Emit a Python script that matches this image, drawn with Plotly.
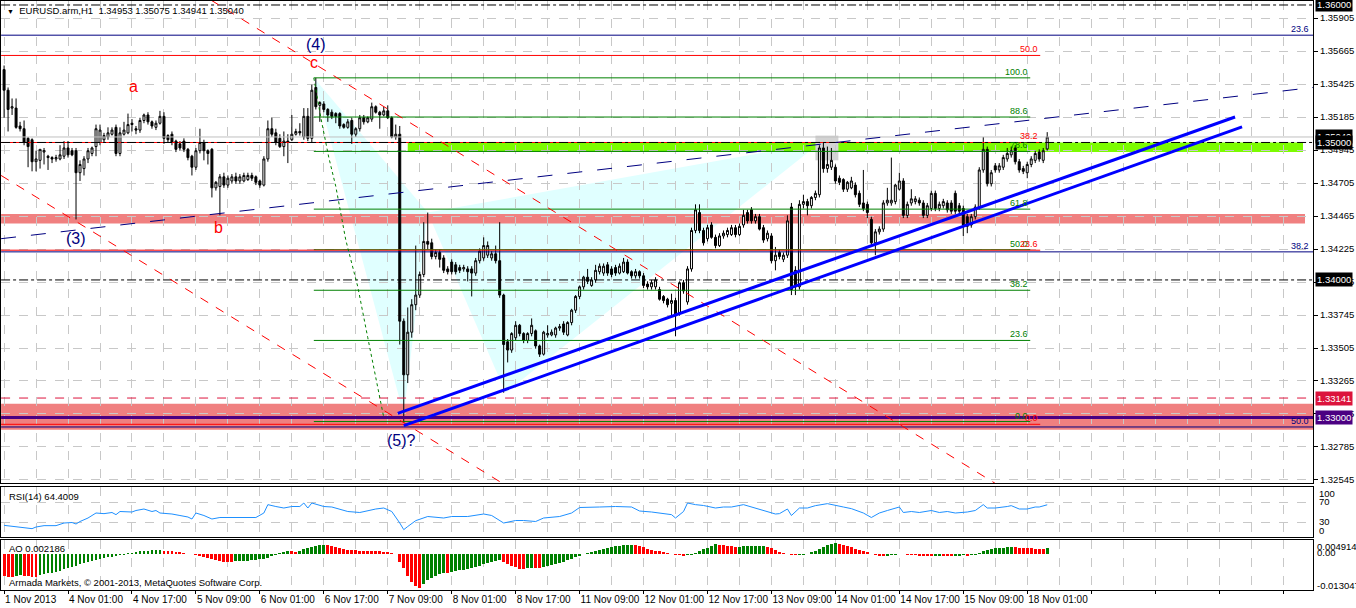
import plotly.graph_objects as go

W, H = 1356, 608

# ---------------- candle data (H1 bars, index 0 = 1 Nov 2013 09:00) ----------------
open_ = [
 1.3553,1.3538,1.3525,1.3525,1.3512,1.3510,1.3503,1.3502,1.3486,1.3487,
 1.3493,1.3490,1.3489,1.3488,1.3488,1.3490,1.3496,1.3494,1.3494,1.3478,
 1.3481,1.3488,1.3492,1.3497,1.3500,1.3502,1.3504,1.3506,1.3511,1.3492,
 1.3506,1.3507,1.3514,1.3510,1.3509,1.3516,1.3520,1.3515,1.3511,1.3514,
 1.3519,1.3505,1.3506,1.3501,1.3499,1.3501,1.3495,1.3490,1.3482,1.3494,
 1.3500,1.3494,1.3495,1.3467,1.3468,1.3475,1.3469,1.3472,1.3475,1.3472,
 1.3472,1.3473,1.3476,1.3475,1.3472,1.3469,1.3488,1.3510,1.3507,1.3503,
 1.3497,1.3501,1.3502,1.3506,1.3508,1.3504,1.3519,1.3503,1.3540,1.3527,
 1.3528,1.3524,1.3522,1.3521,1.3521,1.3513,1.3511,1.3516,1.3506,1.3510,
 1.3518,1.3515,1.3517,1.3526,1.3522,1.3520,1.3523,1.3518,1.3504,1.3506,
 1.3370,1.3331,1.3362,1.3382,1.3389,1.3404,1.3428,1.3427,1.3417,1.3420,
 1.3416,1.3408,1.3413,1.3411,1.3409,1.3408,1.3408,1.3408,1.3405,1.3414,
 1.3416,1.3418,1.3416,1.3419,1.3414,1.3389,1.3355,1.3349,1.3358,1.3367,
 1.3361,1.3356,1.3361,1.3363,1.3352,1.3346,1.3360,1.3360,1.3360,1.3365,
 1.3368,1.3360,1.3369,1.3378,1.3388,1.3395,1.3402,1.3396,1.3400,1.3406,
 1.3405,1.3411,1.3408,1.3409,1.3405,1.3406,1.3413,1.3406,1.3403,1.3406,
 1.3403,1.3397,1.3395,1.3395,1.3393,1.3388,1.3386,1.3383,1.3385,1.3376,
 1.3398,1.3384,1.3408,1.3436,1.3449,1.3436,1.3430,1.3440,1.3431,1.3425,
 1.3432,1.3433,1.3433,1.3438,1.3433,1.3440,1.3449,1.3451,1.3443,1.3446,
 1.3438,1.3430,1.3432,1.3414,1.3420,1.3415,1.3418,1.3453,1.3407,1.3395,
 1.3455,1.3457,1.3454,1.3460,1.3462,1.3496,1.3481,1.3482,1.3482,1.3474,
 1.3473,1.3466,1.3467,1.3469,1.3463,1.3456,1.3455,1.3444,1.3427,1.3435,
 1.3437,1.3456,1.3456,1.3457,1.3466,1.3472,1.3447,1.3456,1.3457,1.3458,
 1.3456,1.3447,1.3452,1.3463,1.3452,1.3454,1.3456,1.3456,1.3463,1.3454,
 1.3452,1.3446,1.3440,1.3446,1.3453,1.3480,1.3495,1.3470,1.3483,1.3480,
 1.3482,1.3488,1.3491,1.3496,1.3486,1.3481,1.3478,1.3484,1.3487,1.3493,
 1.3487,1.34953]
high = [
 1.3556,1.3540,1.3532,1.3532,1.3515,1.3516,1.3504,1.3503,1.3494,1.3495,
 1.3496,1.3491,1.3490,1.3491,1.3498,1.3501,1.3501,1.3496,1.3496,1.3487,
 1.3490,1.3496,1.3497,1.3513,1.3513,1.3507,1.3511,1.3511,1.3513,1.3511,
 1.3515,1.3521,1.3517,1.3512,1.3518,1.3521,1.3522,1.3516,1.3516,1.3523,
 1.3522,1.3506,1.3508,1.3502,1.3501,1.3503,1.3496,1.3491,1.3496,1.3510,
 1.3502,1.3495,1.3496,1.3472,1.3477,1.3478,1.3476,1.3477,1.3478,1.3477,
 1.3478,1.3478,1.3478,1.3476,1.3473,1.3490,1.3516,1.3518,1.3510,1.3506,
 1.3508,1.3506,1.3520,1.3510,1.3514,1.3525,1.3525,1.3542,1.3547,1.3530,
 1.3530,1.3525,1.3524,1.3522,1.3522,1.3514,1.3517,1.3518,1.3511,1.3520,
 1.3520,1.3519,1.3529,1.3527,1.3523,1.3526,1.3527,1.3519,1.3513,1.3512,
 1.3372,1.3380,1.3386,1.3425,1.3406,1.3442,1.3449,1.3430,1.3422,1.3422,
 1.3418,1.3410,1.3415,1.3413,1.3411,1.3411,1.3410,1.3410,1.3416,1.3423,
 1.3431,1.3428,1.3421,1.3425,1.3442,1.3390,1.3357,1.3362,1.3370,1.3368,
 1.3362,1.3362,1.3372,1.3364,1.3353,1.3363,1.3367,1.3364,1.3366,1.3368,
 1.3370,1.3370,1.3379,1.3389,1.3396,1.3403,1.3408,1.3402,1.3411,1.3412,
 1.3412,1.3413,1.3410,1.3411,1.3412,1.3416,1.3415,1.3407,1.3408,1.3407,
 1.3405,1.3399,1.3400,1.3402,1.3395,1.3389,1.3387,1.3390,1.3387,1.3399,
 1.3400,1.3410,1.3438,1.3455,1.3455,1.3438,1.3440,1.3442,1.3433,1.3434,
 1.3436,1.3438,1.3440,1.3440,1.3441,1.3451,1.3451,1.3453,1.3448,1.3448,
 1.3440,1.3436,1.3434,1.3424,1.3422,1.3420,1.3447,1.3456,1.3410,1.3458,
 1.3462,1.3459,1.3461,1.3465,1.3498,1.3500,1.3497,1.3496,1.3484,1.3476,
 1.3474,1.3472,1.3475,1.3471,1.3465,1.3480,1.3457,1.3446,1.3437,1.3439,
 1.3458,1.3467,1.3489,1.3470,1.3478,1.3474,1.3457,1.3466,1.3461,1.3460,
 1.3458,1.3456,1.3465,1.3465,1.3457,1.3459,1.3458,1.3458,1.3465,1.3456,
 1.3454,1.3448,1.3448,1.3455,1.3482,1.3504,1.3497,1.3480,1.3485,1.3485,
 1.3491,1.3496,1.3497,1.3498,1.3488,1.3483,1.3486,1.3490,1.3494,1.3495,
 1.3496,1.35075]
low = [
 1.3518,1.3508,1.3520,1.3510,1.3508,1.3498,1.3482,1.3479,1.3479,1.3481,
 1.3484,1.3480,1.3485,1.3486,1.3487,1.3488,1.3489,1.3490,1.3444,1.3472,
 1.3476,1.3485,1.3490,1.3490,1.3498,1.3500,1.3502,1.3505,1.3490,1.3490,
 1.3505,1.3506,1.3508,1.3506,1.3507,1.3514,1.3513,1.3510,1.3509,1.3513,
 1.3499,1.3500,1.3498,1.3493,1.3494,1.3493,1.3487,1.3476,1.3480,1.3492,
 1.3487,1.3484,1.3460,1.3465,1.3447,1.3467,1.3467,1.3470,1.3470,1.3470,
 1.3471,1.3472,1.3472,1.3469,1.3467,1.3468,1.3486,1.3504,1.3498,1.3496,
 1.3490,1.3485,1.3501,1.3505,1.3505,1.3502,1.3501,1.3500,1.3524,1.3515,
 1.3522,1.3515,1.3517,1.3514,1.3510,1.3510,1.3510,1.3499,1.3504,1.3508,
 1.3513,1.3514,1.3515,1.3521,1.3510,1.3519,1.3517,1.3503,1.3502,1.3353,
 1.3296,1.3325,1.3358,1.3378,1.3387,1.3402,1.3422,1.3415,1.3415,1.3409,
 1.3405,1.3404,1.3404,1.3404,1.3405,1.3406,1.3399,1.3388,1.3403,1.3412,
 1.3414,1.3416,1.3414,1.3412,1.3387,1.3318,1.3340,1.3347,1.3356,1.3359,
 1.3354,1.3354,1.3359,1.3350,1.3344,1.3345,1.3358,1.3359,1.3358,1.3363,
 1.3360,1.3359,1.3367,1.3376,1.3386,1.3393,1.3397,1.3395,1.3398,1.3404,
 1.3403,1.3403,1.3402,1.3403,1.3404,1.3405,1.3404,1.3401,1.3401,1.3401,
 1.3394,1.3393,1.3393,1.3393,1.3385,1.3383,1.3380,1.3373,1.3359,1.3374,
 1.3390,1.3382,1.3406,1.3434,1.3434,1.3425,1.3428,1.3430,1.3423,1.3424,
 1.3430,1.3431,1.3432,1.3431,1.3432,1.3438,1.3441,1.3441,1.3441,1.3436,
 1.3427,1.3428,1.3412,1.3407,1.3415,1.3413,1.3416,1.3389,1.3389,1.3393,
 1.3452,1.3447,1.3452,1.3458,1.3460,1.3478,1.3478,1.3480,1.3470,1.3469,
 1.3464,1.3464,1.3466,1.3460,1.3453,1.3450,1.3445,1.3425,1.3418,1.3433,
 1.3435,1.3454,1.3454,1.3455,1.3465,1.3445,1.3445,1.3454,1.3455,1.3454,
 1.3445,1.3445,1.3450,1.3450,1.3450,1.3452,1.3449,1.3448,1.3448,1.3448,
 1.3432,1.3434,1.3438,1.3444,1.3451,1.3478,1.3468,1.3468,1.3478,1.3478,
 1.3480,1.3486,1.3489,1.3484,1.3478,1.3477,1.3474,1.3482,1.3485,1.3486,
 1.3485,1.34941]
close = [
 1.3538,1.3524,1.3526,1.3511,1.3510,1.3500,1.3497,1.3486,1.3488,1.3495,
 1.3494,1.3489,1.3488,1.3489,1.3491,1.3496,1.3491,1.3491,1.3478,1.3484,
 1.3488,1.3494,1.3496,1.3510,1.3509,1.3505,1.3507,1.3509,1.3492,1.3507,
 1.3509,1.3513,1.3513,1.3509,1.3516,1.3520,1.3515,1.3512,1.3514,1.3519,
 1.3503,1.3502,1.3500,1.3495,1.3496,1.3495,1.3489,1.3482,1.3494,1.3500,
 1.3494,1.3492,1.3467,1.3471,1.3475,1.3469,1.3474,1.3475,1.3472,1.3475,
 1.3476,1.3476,1.3474,1.3471,1.3469,1.3488,1.3510,1.3506,1.3500,1.3497,
 1.3501,1.3500,1.3506,1.3508,1.3507,1.3519,1.3503,1.3538,1.3526,1.3529,
 1.3524,1.3520,1.3519,1.3519,1.3512,1.3511,1.3515,1.3506,1.3510,1.3518,
 1.3515,1.3518,1.3526,1.3522,1.3520,1.3523,1.3518,1.3504,1.3506,1.3370,
 1.3331,1.3362,1.3382,1.3389,1.3404,1.3428,1.3426,1.3417,1.3420,1.3415,
 1.3407,1.3406,1.3406,1.3406,1.3407,1.3409,1.3406,1.3405,1.3414,1.3421,
 1.3425,1.3425,1.3419,1.3414,1.3389,1.3353,1.3349,1.3361,1.3367,1.3361,
 1.3356,1.3361,1.3367,1.3352,1.3346,1.3362,1.3361,1.3362,1.3365,1.3366,
 1.3362,1.3369,1.3378,1.3388,1.3395,1.3402,1.3399,1.3400,1.3407,1.3410,
 1.3410,1.3405,1.3404,1.3405,1.3410,1.3413,1.3405,1.3403,1.3406,1.3403,
 1.3396,1.3395,1.3398,1.3400,1.3386,1.3385,1.3382,1.3385,1.3374,1.3398,
 1.3392,1.3408,1.3436,1.3451,1.3436,1.3427,1.3438,1.3431,1.3425,1.3432,
 1.3434,1.3436,1.3438,1.3433,1.3439,1.3447,1.3443,1.3443,1.3446,1.3437,
 1.3429,1.3434,1.3414,1.3418,1.3417,1.3418,1.3443,1.3393,1.3395,1.3455,
 1.3457,1.3454,1.3460,1.3463,1.3496,1.3481,1.3484,1.3487,1.3472,1.3471,
 1.3466,1.3471,1.3472,1.3462,1.3455,1.3452,1.3449,1.3427,1.3435,1.3437,
 1.3456,1.3458,1.3458,1.3469,1.3472,1.3447,1.3455,1.3459,1.3459,1.3456,
 1.3447,1.3454,1.3463,1.3452,1.3455,1.3457,1.3451,1.3450,1.3450,1.3450,
 1.3440,1.3439,1.3446,1.3453,1.3480,1.3495,1.3470,1.3478,1.3480,1.3483,
 1.3489,1.3492,1.3494,1.3486,1.3480,1.3479,1.3484,1.3488,1.3492,1.3488,
 1.3494,1.35040]
bar_x = list(range(len(close)))

# ---------------- axis labels ----------------
x_label_bars = [0, 16, 32, 48, 64, 80, 96, 112, 128, 144, 160, 176, 192, 208, 224, 240, 256]
x_label_text = ["1 Nov 2013", "4 Nov 01:00", "4 Nov 17:00", "5 Nov 09:00", "6 Nov 01:00",
                "6 Nov 17:00", "7 Nov 09:00", "8 Nov 01:00", "8 Nov 17:00", "11 Nov 09:00",
                "12 Nov 01:00", "12 Nov 17:00", "13 Nov 09:00", "14 Nov 01:00", "14 Nov 17:00",
                "15 Nov 09:00", "18 Nov 01:00"]
price_ticks = [1.32545, 1.32785, 1.33025, 1.33265, 1.33505, 1.33745, 1.33985, 1.34225,
               1.34465, 1.34705, 1.34945, 1.35185, 1.35425, 1.35665, 1.35905]

# ---------------- RSI(14) read at sample bars ----------------
rsi_bars = [0,4,7,8,10,13,15,17,18,19,21,23,25,27,28,29,32,33,35,37,38,39,42,44,46,47,48,50,52,54,
            57,60,63,65,66,68,70,72,74,75,76,77,80,82,84,86,89,91,93,95,97,99,100,101,103,106,110,
            112,116,120,122,125,128,130,133,135,139,142,144,149,153,157,159,162,164,167,168,170,
            171,173,175,176,178,180,182,185,187,189,191,193,194,196,197,199,201,203,206,208,210,
            212,215,217,219,221,224,225,227,229,232,234,236,238,241,243,245,246,248,251,252,254,
            256,258,259,261]
rsi_vals = [23.3,19,16.7,20,22.7,22.7,28,29,26,31,38,48,46.7,49,44.7,51,50,53,56,51,53,48,46,43,40,
            36,48,43,36,39,39,40,39,48,64.7,61,58,61,61,68,58,68,61,60,56,51,49,53,56,58,51,28,14.7,
            21,32.7,41,38,41,41,46,43,28,33,33,31,38,41,48,59,60,61,60,52,50,48,44.7,38,51,68,64.7,
            63,61,58,60,60,64.7,60,55,51,46,46.7,56,43,58,58,62.7,66.7,62.7,60,56.7,48,39,48,53,60,
            49,51,49,53,49,51,48,50,53,64.7,58,58,61,62.7,56,56,60,60,64.4]

# ---------------- Awesome Oscillator per bar ----------------
ao_vals = [
 -0.0085,-0.0087,-0.0087,-0.0085,-0.0083,-0.0085,-0.0086,-0.0088,-0.0088,-0.0083,
 -0.0077,-0.0074,-0.0072,-0.0068,-0.0064,-0.0059,-0.0054,-0.0050,-0.0046,-0.0040,
 -0.0033,-0.0029,-0.0026,-0.0023,-0.0020,-0.0016,-0.0013,-0.0010,-0.0008,-0.0005,
 -0.0002,0.0002,0.0005,0.0008,0.0010,0.0012,0.0013,0.0015,0.0016,0.0017,
 0.0012,0.0011,0.0010,0.0008,0.0006,0.0003,0.0001,-0.0001,-0.0003,-0.0006,
 -0.0010,-0.0014,-0.0018,-0.0022,-0.0027,-0.0029,-0.0031,-0.0032,-0.0028,-0.0027,
 -0.0026,-0.00255,-0.0024,-0.0023,-0.0021,-0.0018,-0.0014,-0.0009,-0.0004,0.0002,
 0.0009,0.0011,0.0010,0.0009,0.0013,0.0019,0.0024,0.0028,0.0031,0.0033,
 0.0035,0.0034,0.0031,0.0027,0.0023,0.0020,0.0017,0.0015,0.0014,0.0013,
 0.0012,0.00115,0.0011,0.00105,0.0010,0.0009,0.0008,0.0005,0.0001,-0.0030,
 -0.0055,-0.0085,-0.0110,-0.0125,-0.0130,-0.0116,-0.0100,-0.0091,-0.0084,-0.0078,
 -0.0072,-0.0073,-0.0070,-0.0066,-0.0063,-0.0060,-0.0057,-0.0054,-0.0050,-0.0046,
 -0.0040,-0.0034,-0.0029,-0.0026,-0.0025,-0.0030,-0.0038,-0.0045,-0.0052,-0.0056,
 -0.0058,-0.0055,-0.0053,-0.0054,-0.0055,-0.0052,-0.0047,-0.0043,-0.0039,-0.0034,
 -0.0029,-0.0024,-0.0018,-0.0012,-0.0006,-0.0001,0.0004,0.0009,0.0013,0.0017,
 0.0021,0.0024,0.0027,0.0029,0.0031,0.0033,0.0034,0.0035,0.0033,0.0030,
 0.0026,0.0020,0.0014,0.0012,0.0010,0.0007,0.0003,0.0000,-0.0003,-0.0005,
 -0.0006,-0.0005,-0.0003,0.0003,0.0010,0.0018,0.0025,0.0031,0.0037,0.0035,
 0.0033,0.0031,0.0029,0.0027,0.0028,0.0029,0.00295,0.0030,0.00305,0.0031,
 0.00315,0.0028,0.0022,0.0015,0.0008,0.0003,-0.0001,-0.0004,-0.0005,-0.0004,
 -0.0002,0.0001,0.0006,0.0012,0.0020,0.0027,0.0033,0.0038,0.0042,0.0040,
 0.0036,0.0031,0.0026,0.0021,0.0016,0.0011,0.0006,0.0001,-0.0004,-0.0007,
 -0.0009,-0.0007,-0.0004,-0.0002,0.0001,0.0000,-0.0002,-0.0004,-0.0005,-0.0006,
 -0.0007,-0.0008,-0.0009,-0.0008,-0.0006,-0.0007,-0.0008,-0.0009,-0.0008,-0.0006,
 -0.0005,-0.0006,-0.0005,-0.0002,0.0004,0.0011,0.0016,0.0020,0.0023,0.0024,
 0.0025,0.0026,0.0027,0.0026,0.0025,0.0024,0.0023,0.0022,0.0021,0.0020,
 0.0019,0.002186]

# ---------------- chart objects (bar index, price) ----------------
green_fib_levels = [0.0, 23.6, 38.2, 50.0, 61.8, 78.6, 88.6, 100.0]
green_fib_p0, green_fib_p100 = 1.3297, 1.3547
green_fib_x = [77.5, 256.75]
red_fib_levels = [0.0, 23.6, 38.2, 50.0]
red_fib_p0, red_fib_p100 = 1.3295, 1.38316
red_fib_x = [-0.75, 259.25]
navy_fib_levels = [23.6, 38.2, 50.0]
navy_fib_p0, navy_fib_p100 = 1.38328, 1.27533
navy_fib_x = [-0.75, 327.5]

hline_prices = [1.36000, 1.35000, 1.34000]
bid_price = 1.35040
alert_price = 1.33141
support_price = 1.33000

lime_zone = ([101, 325], [1.3493, 1.3500])
pink_zone_hi = ([-0.75, 325.5], [1.3441, 1.3448])
pink_zone_lo = ([-0.75, 327.5], [1.3291, 1.3310])
gray_box = ([203, 208.75], [1.3487, 1.3505])

pattern_x = [77.5, 100, 106, 125.5, 204.25]
pattern_p = [1.3547, 1.3302, 1.3449, 1.3318, 1.3500]

chan1_x, chan1_p = [98.5, 308], [1.3303, 1.35185]
chan2_x, chan2_p = [100, 309.75], [1.3294, 1.35113]
trend_x, trend_p = [-0.75, 327.5], [1.3430, 1.3540]
red_diag1_x, red_diag1_p = [51.75, 248], [1.36036, 1.3252]
red_diag2_x, red_diag2_p = [-0.75, 124.75], [1.3476, 1.3252]
dotted_x = [77.5, 79.25, 81.25, 83, 85.5, 88.5, 91, 93.5, 95]
dotted_p = [1.3547, 1.3518, 1.3489, 1.3468, 1.3429, 1.3395, 1.3358, 1.3322, 1.3300]

wave_text = ["(4)", "c", "a", "b", "(3)", "(5)?"]
wave_x = [78, 77.5, 32.5, 53.75, 18, 99.5]
wave_p = [1.35716, 1.3558, 1.35404, 1.34378, 1.3430, 1.32829]
wave_color = ["#000080", "#FF0000", "#FF0000", "#FF0000", "#000080", "#000080"]

# ---------------- layout geometry ----------------
XR = [-0.75, 327.5]
PLOT_R = 1313 / W
def py(p):
    return 1 - p / H

FONT = "Liberation Sans, Arial, sans-serif"
FS = 9
FSA = 9.5
GRID = "#C8C8C8"

fig = go.Figure()

# candles
fig.add_trace(go.Candlestick(
    x=bar_x, open=open_, high=high, low=low, close=close,
    increasing=dict(line=dict(color="black", width=1), fillcolor="white"),
    decreasing=dict(line=dict(color="black", width=1), fillcolor="black"),
    whiskerwidth=0, xaxis="x", yaxis="y", showlegend=False, hoverinfo="skip"))

def line(xs, ys, color, width=1, dash="solid"):
    fig.add_trace(go.Scatter(x=xs, y=ys, mode="lines", line=dict(color=color, width=width, dash=dash),
                             xaxis="x", yaxis="y", showlegend=False, hoverinfo="skip"))

# horizontal price lines
line(XR, [bid_price] * 2, "#C0C0C0", 1)
line(XR, [alert_price] * 2, "#DC143C", 1, "dash")
line(XR, [support_price] * 2, "#4B0082", 3)

# fibonacci sets
annots = []
for lv in green_fib_levels:
    p = green_fib_p0 + (green_fib_p100 - green_fib_p0) * lv / 100
    line(green_fib_x, [p, p], "#008000", 1)
    annots.append(dict(x=green_fib_x[1], y=p, xref="x", yref="y", text=f"{lv:.1f}",
                       font=dict(color="#008000", size=FS), xanchor="right", yanchor="bottom",
                       showarrow=False, yshift=-1))
for lv in red_fib_levels:
    p = red_fib_p0 + (red_fib_p100 - red_fib_p0) * lv / 100
    line(red_fib_x, [p, p], "#FF0000", 1)
    annots.append(dict(x=red_fib_x[1], y=p, xref="x", yref="y", text=f"{lv:.1f}",
                       font=dict(color="#FF0000", size=FS), xanchor="right", yanchor="bottom",
                       showarrow=False, yshift=-1))
for lv in navy_fib_levels:
    p = navy_fib_p0 + (navy_fib_p100 - navy_fib_p0) * lv / 100
    line(navy_fib_x, [p, p], "#000080", 1)
    annots.append(dict(x=navy_fib_x[1] - 0.5, y=p, xref="x", yref="y", text=f"{lv:.1f}",
                       font=dict(color="#000080", size=FS), xanchor="right", yanchor="bottom",
                       showarrow=False, yshift=-1))
for p in hline_prices:
    line(XR, [p, p], "black", 1, "dashdot")

# trend lines
line(trend_x, trend_p, "#000080", 1, "longdash")
line(red_diag1_x, red_diag1_p, "#FF0000", 1, "dash")
line(red_diag2_x, red_diag2_p, "#FF0000", 1, "dash")
line(dotted_x, dotted_p, "#008000", 1, "dot")
line(chan1_x, chan1_p, "#0000FF", 3)
line(chan2_x, chan2_p, "#0000FF", 3)

# RSI
fig.add_trace(go.Scatter(x=rsi_bars, y=rsi_vals, mode="lines", line=dict(color="#1E90FF", width=1),
                         xaxis="x2", yaxis="y2", showlegend=False, hoverinfo="skip"))

# AO histogram
ao_colors = ["#FF0000"] + ["#008000" if ao_vals[i] > ao_vals[i - 1] else "#FF0000"
                           for i in range(1, len(ao_vals))]
fig.add_trace(go.Bar(x=bar_x, y=ao_vals, marker=dict(color=ao_colors, line=dict(width=0)),
                     width=0.72, xaxis="x3", yaxis="y3", showlegend=False, hoverinfo="skip"))

# shapes (below grid)
shapes = []
for a, b, c in [(0, 1, 2), (2, 3, 4)]:
    path = (f"M {pattern_x[a]},{pattern_p[a]} L {pattern_x[b]},{pattern_p[b]} "
            f"L {pattern_x[c]},{pattern_p[c]} Z")
    shapes.append(dict(type="path", xref="x", yref="y", path=path, fillcolor="#E0FFFF",
                       line=dict(width=0), layer="below"))
def rect(zone, color):
    (x0, x1), (y0, y1) = zone
    shapes.append(dict(type="rect", xref="x", yref="y", x0=x0, x1=x1, y0=y0, y1=y1,
                       fillcolor=color, line=dict(width=0), layer="below"))
rect(pink_zone_hi, "#F08080")
rect(pink_zone_lo, "#F08080")
rect(lime_zone, "#7CFC00")
rect(gray_box, "#D3D3D3")

# wave labels
for t, x, p, c in zip(wave_text, wave_x, wave_p, wave_color):
    annots.append(dict(x=x, y=p, xref="x", yref="y", text=t, showarrow=False,
                       font=dict(color=c, size=16), xanchor="center", yanchor="middle"))

# right-axis highlighted price labels
for p, bg in [(1.36000, "black"), (bid_price, "black"), (1.35000, "black"), (1.34000, "black"),
              (alert_price, "#DC143C"), (support_price, "#4B0082")]:
    annots.append(dict(x=1315 / W, y=p, xref="paper", yref="y", text=f"{p:.5f}", showarrow=False,
                       xanchor="left", yanchor="middle", bgcolor=bg, borderpad=1,
                       font=dict(color="white", size=FSA)))

# panel texts
def txt(x, y, t, size=FS, anchor="left", color="black"):
    annots.append(dict(x=x / W, y=py(y), xref="paper", yref="paper", text=t, showarrow=False,
                       xanchor=anchor, yanchor="middle", font=dict(size=size, color=color)))
txt(5, 10, "<span style='font-size:7px'>▼</span>  EURUSD.arm,H1  1.34953 1.35075 1.34941 1.35040",
    size=FSA)
txt(7, 496, "RSI(14) 64.4009", size=FSA)
txt(7, 548, "AO 0.002186", size=FSA)
txt(7, 582, "Armada Markets, © 2001-2013, MetaQuotes Software Corp.", size=FSA)
for lab, y in [("100", 493), ("70", 501), ("30", 521), ("0", 530)]:
    txt(1317, y, lab, size=FSA)
for lab, y in [("0.004914", 546), ("0.00", 552), ("-0.013047", 585)]:
    txt(1315, y, lab, size=FSA)

x_common = dict(range=XR, showgrid=True, gridcolor=GRID, griddash="dash", gridwidth=1,
                zeroline=False, showline=True, mirror=True, linecolor="black", linewidth=1,
                domain=[0.0008, PLOT_R], fixedrange=True, automargin=False)
tv = list(range(0, 328, 16))
tt = [x_label_text[x_label_bars.index(v)] if v in x_label_bars else "" for v in tv]

fig.update_layout(
    width=W, height=H, margin=dict(l=0, r=0, t=0, b=0, autoexpand=False),
    paper_bgcolor="white", plot_bgcolor="white",
    font=dict(family=FONT, size=FS, color="black"),
    hovermode=False, showlegend=False,
    xaxis=dict(**x_common, anchor="y", tickmode="linear", tick0=0, dtick=8,
               showticklabels=False, ticks="", rangeslider=dict(visible=False)),
    xaxis2=dict(**x_common, anchor="y2", tickmode="linear", tick0=0, dtick=8,
                showticklabels=False, ticks=""),
    xaxis3=dict(**x_common, anchor="y3", tickmode="array", tickvals=tv, ticktext=tt,
                ticks="outside", ticklen=3, tickcolor="black", tickangle=0,
                tickfont=dict(size=10), ticklabelposition="outside right",
                minor=dict(tickmode="linear", tick0=8, dtick=16, showgrid=True,
                           gridcolor=GRID, griddash="dash", ticks="")),
    yaxis=dict(domain=[py(483), py(1)], range=[1.32523, 1.36029], side="right",
               tickmode="array", tickvals=price_ticks, ticktext=[f"{v:.5f}" for v in price_ticks],
               tickfont=dict(size=FSA),
               ticks="outside", ticklen=4, tickcolor="black", showgrid=True, gridcolor=GRID,
               griddash="dash", zeroline=False, showline=True, mirror=True, linecolor="black",
               anchor="x", fixedrange=True, automargin=False),
    yaxis2=dict(domain=[py(537), py(487)], range=[0, 100], tickmode="array", tickvals=[30, 70],
                showticklabels=False, ticks="", showgrid=True, gridcolor=GRID, griddash="dash",
                zeroline=False, showline=True, mirror=True, linecolor="black", anchor="x2",
                fixedrange=True, automargin=False),
    yaxis3=dict(domain=[py(590), py(540)], range=[-0.0139, 0.0054], showticklabels=False,
                ticks="", showgrid=False, zeroline=False, showline=True, mirror=True,
                linecolor="black", anchor="x3", fixedrange=True, automargin=False),
    shapes=shapes, annotations=annots, bargap=0,
)

fig.write_html("out.html", config={"displayModeBar": False, "staticPlot": True},
               post_script="document.body.style.margin='0px';document.body.style.overflow='hidden';")
